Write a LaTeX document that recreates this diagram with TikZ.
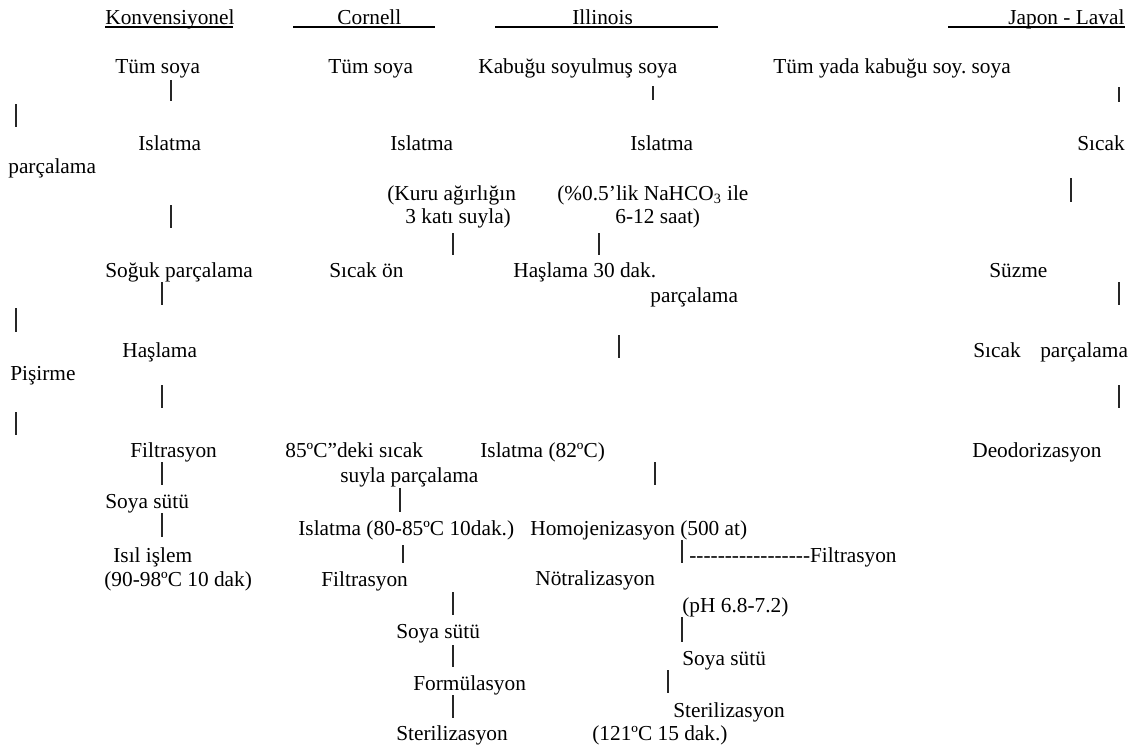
\documentclass[tikz,border=0pt]{standalone}
\usepackage{fontspec}
\setmainfont{Liberation Serif}
\newcommand\dashrun[1]{\foreach \k in {1,...,#1}{-\kern0pt}}

\begin{document}
\begin{tikzpicture}[
        x=0.5625pt, y=-0.5625pt,
        font=\fontsize{12}{13.8}\selectfont,
        txt/.style={anchor=base west, inner sep=0pt},
        bar/.style={line width=0.6pt, black!85},
        uline/.style={line width=0.6pt}
    ]
    \useasboundingbox (0,0) rectangle (1134,747);

    %% ── BAŞLIKLAR ──────────────────────────
    \node[txt] (h_konv) at (105,24) {Konvensiyonel};
    \node[txt] (h_corn) at (337,24) {Cornell};
    \node[txt] (h_ill)  at (572,24) {Illinois};
    \node[txt] (h_jap)  at (1008,24) {Japon - Laval};

    %% ── KONVENSİYONEL ──────────────────────
    \node[txt] (k_soya)   at (115,73)  {Tüm soya};
    \node[txt] (k_isl)    at (138,150) {Islatma};
    \node[txt] (k_parc)   at (8,173)   {parçalama};
    \node[txt] (k_soguk)  at (105,277) {Soğuk parçalama};
    \node[txt] (k_hasl)   at (122,357) {Haşlama};
    \node[txt] (k_pis)    at (10,380)  {Pişirme};
    \node[txt] (k_filt)   at (130,457) {Filtrasyon};
    \node[txt] (k_sut)    at (105,508) {Soya sütü};
    \node[txt] (k_isil)   at (113,562) {Isıl işlem};
    \node[txt] (k_isil2)  at (104,586) {(90-98ºC 10 dak)};

    %% ── CORNELL ────────────────────────────
    \node[txt] (c_soya)   at (328,73)  {Tüm soya};
    \node[txt] (c_isl)    at (390,150) {Islatma};
    \node[txt] (c_kuru)   at (387,200) {(Kuru ağırlığın};
    \node[txt] (c_kuru2)  at (405,223) {3 katı suyla)};
    \node[txt] (c_on)     at (329,277) {Sıcak ön};
    \node[txt] (c_85)     at (285,457) {85ºC”deki sıcak};
    \node[txt] (c_85b)    at (340,482) {suyla parçalama};
    \node[txt] (c_isl2)   at (298,535) {Islatma (80-85ºC 10dak.)};
    \node[txt] (c_filt)   at (321,586) {Filtrasyon};
    \node[txt] (c_sut)    at (396,638) {Soya sütü};
    \node[txt] (c_form)   at (413,690) {Formülasyon};
    \node[txt] (c_ster)   at (396,740) {Sterilizasyon};

    %% ── ILLINOIS ───────────────────────────
    \node[txt] (i_soya)   at (478,73)  {Kabuğu soyulmuş soya};
    \node[txt] (i_isl)    at (630,150) {Islatma};
    \node[txt] (i_nahco)  at (557,200) {(\%0.5’lik NaHCO\textsubscript{3} ile};
    \node[txt] (i_nahco2) at (615,223) {6-12 saat)};
    \node[txt] (i_hasl)   at (513,277) {Haşlama 30 dak.};
    \node[txt] (i_parc)   at (650,302) {parçalama};
    \node[txt] (i_isl82)  at (480,457) {Islatma (82ºC)};
    \node[txt] (i_homo)   at (530,535) {Homojenizasyon (500 at)};
    \node[txt] (i_filt)   at (689,562) {\dashrun{17}Filtrasyon};
    \node[txt] (i_notr)   at (535,585) {Nötralizasyon};
    \node[txt] (i_ph)     at (682,612) {(pH 6.8-7.2)};
    \node[txt] (i_sut)    at (682,665) {Soya sütü};
    \node[txt] (i_ster)   at (673,717) {Sterilizasyon};
    \node[txt] (i_ster2)  at (592,740) {(121ºC 15 dak.)};

    %% ── JAPON - LAVAL ──────────────────────
    \node[txt] (j_soya)   at (773,73)  {Tüm yada kabuğu soy.\ soya};
    \node[txt] (j_sicak)  at (1077,150) {Sıcak};
    \node[txt] (j_suz)    at (989,277) {Süzme};
    \node[txt] (j_parc)   at (973,357) {Sıcak\hspace{11pt}parçalama};
    \node[txt] (j_deo)    at (972,457) {Deodorizasyon};

    % başlık çizgileri
    \foreach \xa/\xb [count=\i] in {105/233, 293/435, 495/718, 948/1125} {
        \coordinate (u\i_a) at (\xa,27);
        \coordinate (u\i_b) at (\xb,27);
        \draw[uline] (u\i_a) -- (u\i_b);
    }

    % dikey çizgiler
    \foreach \x/\ya/\yb [count=\i] in {
            171/80/101, 16/104/127, 171/205/228, 162/282/305, 16/308/332,
            162/385/408, 16/412/435, 162/462/485, 162/513/537,
            453/233/255, 400/488/512, 403/545/563, 453/592/615, 453/645/667, 453/695/718,
            653/86/100, 599/233/255, 619/335/358, 655/462/485, 682/540/563,
            682/617/642, 668/670/693,
            1119/87/102, 1071/178/202, 1119/282/305, 1119/385/408} {
        \coordinate (b\i_top) at (\x,\ya);
        \coordinate (b\i_bot) at (\x,\yb);
        \draw[bar] (b\i_top) -- (b\i_bot);
    }

\end{tikzpicture}
\end{document}
